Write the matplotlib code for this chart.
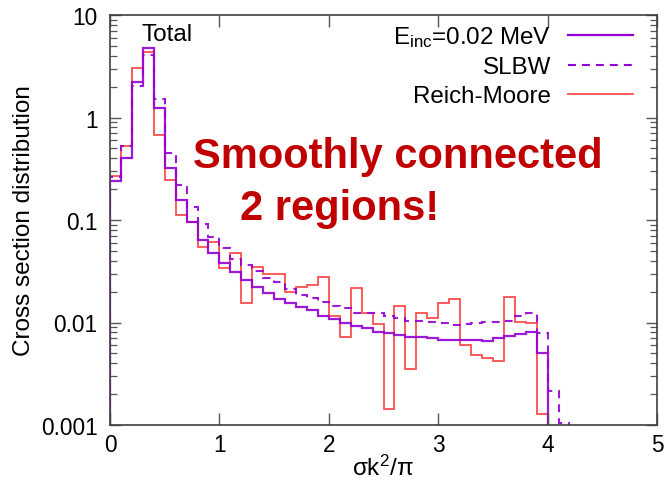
import numpy as np
import matplotlib
matplotlib.use("Agg")
import matplotlib.pyplot as plt
from matplotlib.lines import Line2D

plt.rcParams['font.family'] = ['Liberation Sans', 'DejaVu Sans']
plt.rcParams['mathtext.default'] = 'regular'

# ---- data (bin width 0.1 in sigma k^2/pi) ----
bin_edges_main = np.round(np.arange(0, 4.0001, 0.1), 2)   # 0 .. 4.0
bin_edges_slbw = np.round(np.arange(0, 4.2001, 0.1), 2)   # 0 .. 4.2

einc_002 = [0.24, 0.40, 2.2, 4.76, 1.23, 0.32, 0.157, 0.095, 0.064, 0.048,
            0.0377, 0.031, 0.026, 0.022, 0.0193, 0.017, 0.0155, 0.0141, 0.0131, 0.0117,
            0.0108, 0.0099, 0.0093, 0.0088, 0.0081, 0.0079, 0.0075, 0.0073, 0.0073, 0.0071,
            0.0068, 0.0067, 0.0067, 0.0068, 0.0066, 0.0071, 0.0074, 0.0078, 0.0080, 0.0050]

slbw = [0.26, 0.53, 2.01, 4.07, 1.51, 0.45, 0.22, 0.135, 0.091, 0.068,
        0.053, 0.0417, 0.0364, 0.032, 0.027, 0.0246, 0.0212, 0.0186, 0.0172, 0.016,
        0.0146, 0.0138, 0.0124, 0.0124, 0.0125, 0.0115, 0.0110, 0.0104, 0.0103, 0.0101,
        0.0099, 0.0095, 0.0097, 0.0099, 0.0101, 0.0102, 0.0104, 0.0117, 0.0123, 0.0079,
        0.00213, 0.00105]

reich_moore = [0.27, 0.53, 3.04, 4.33, 0.675, 0.247, 0.112, 0.096, 0.055, 0.0605,
               0.034, 0.0473, 0.0155, 0.0345, 0.0297, 0.0297, 0.0197, 0.022, 0.0232, 0.0276,
               0.0116, 0.0072, 0.0215, 0.0123, 0.0097, 0.00143, 0.0146, 0.00355, 0.0123, 0.0111,
               0.0155, 0.0168, 0.0061, 0.00483, 0.00455, 0.0042, 0.0176, 0.0102, 0.0098, 0.00128]

series_labels = [r"E$_{inc}$=0.02 MeV", "SLBW", "Reich-Moore"]
x_ticks = [0, 1, 2, 3, 4, 5]
y_ticks = [0.001, 0.01, 0.1, 1, 10]
y_ticklabels = ["0.001", "0.01", "0.1", "1", "10"]

PURPLE = '#9400D3'
RED = '#ff3030'

W, H = 666, 489
fig = plt.figure(figsize=(W / 100, H / 100), dpi=100)
ax = fig.add_axes([110 / W, 1 - 426 / H, (657 - 110) / W, (426 - 16) / H])

ax.set_yscale('log')
base = 1e-6
ax.stairs(reich_moore, bin_edges_main, baseline=base, color=RED, lw=1.3, alpha=0.85)
ax.stairs(slbw, bin_edges_slbw, baseline=base, color=PURPLE, lw=1.5,
          linestyle=(0, (3.8, 2.9)), alpha=0.9)
ax.stairs(einc_002, bin_edges_main, baseline=base, color=PURPLE, lw=1.6, alpha=0.9)

ax.set_xlim(0, 5)
ax.set_ylim(0.001, 10)
ax.set_xticks(x_ticks)
ax.set_xticklabels([str(t) for t in x_ticks])
ax.set_yticks(y_ticks)
ax.set_yticklabels(y_ticklabels)
ax.yaxis.set_minor_locator(matplotlib.ticker.LogLocator(base=10, subs=np.arange(2, 10)))
ax.yaxis.set_minor_formatter(matplotlib.ticker.NullFormatter())
ax.xaxis.set_minor_locator(matplotlib.ticker.NullLocator())

ax.tick_params(axis='both', which='both', direction='in', top=True, right=True,
               color='#555555', labelsize=16.3, labelcolor='black')
ax.tick_params(axis='x', which='major', length=8.5, width=1.0, pad=6)
ax.tick_params(axis='y', which='major', length=8, width=1.0, pad=9)
ax.tick_params(axis='y', which='minor', length=5, width=0.9)
for s in ax.spines.values():
    s.set_color('#404040')
    s.set_linewidth(1.2)

fig.text(24.5 / W, 1 - 221 / H, "Cross section distribution", rotation=90,
         ha='center', va='center', fontsize=17.5)
fig.text(383 / W, 1 - 468 / H, r"σk$^{2}$/π", ha='center', va='center', fontsize=17.5)

fig.text(141 / W, 1 - 41 / H, "Total", ha='left', va='baseline', fontsize=17.5)

handles = [Line2D([], [], color=PURPLE, lw=1.6),
           Line2D([], [], color=PURPLE, lw=1.5, linestyle=(0, (3.8, 2.9))),
           Line2D([], [], color=RED, lw=1.3, alpha=0.85)]
ax.legend(handles, series_labels, loc='upper right', frameon=False, fontsize=17.4,
          markerfirst=False, handlelength=2.7, handletextpad=0.7, labelspacing=0.3,
          borderpad=0, borderaxespad=0,
          bbox_to_anchor=(633 / W, 1 - 25 / H), bbox_transform=fig.transFigure)

fig.text(193 / W, 1 - 168 / H, "Smoothly connected", ha='left', va='baseline',
         fontsize=30, fontweight='bold', color='#C00000')
fig.text(240 / W, 1 - 220 / H, "2 regions!", ha='left', va='baseline',
         fontsize=30, fontweight='bold', color='#C00000')

fig.savefig("out.png", dpi=100)
